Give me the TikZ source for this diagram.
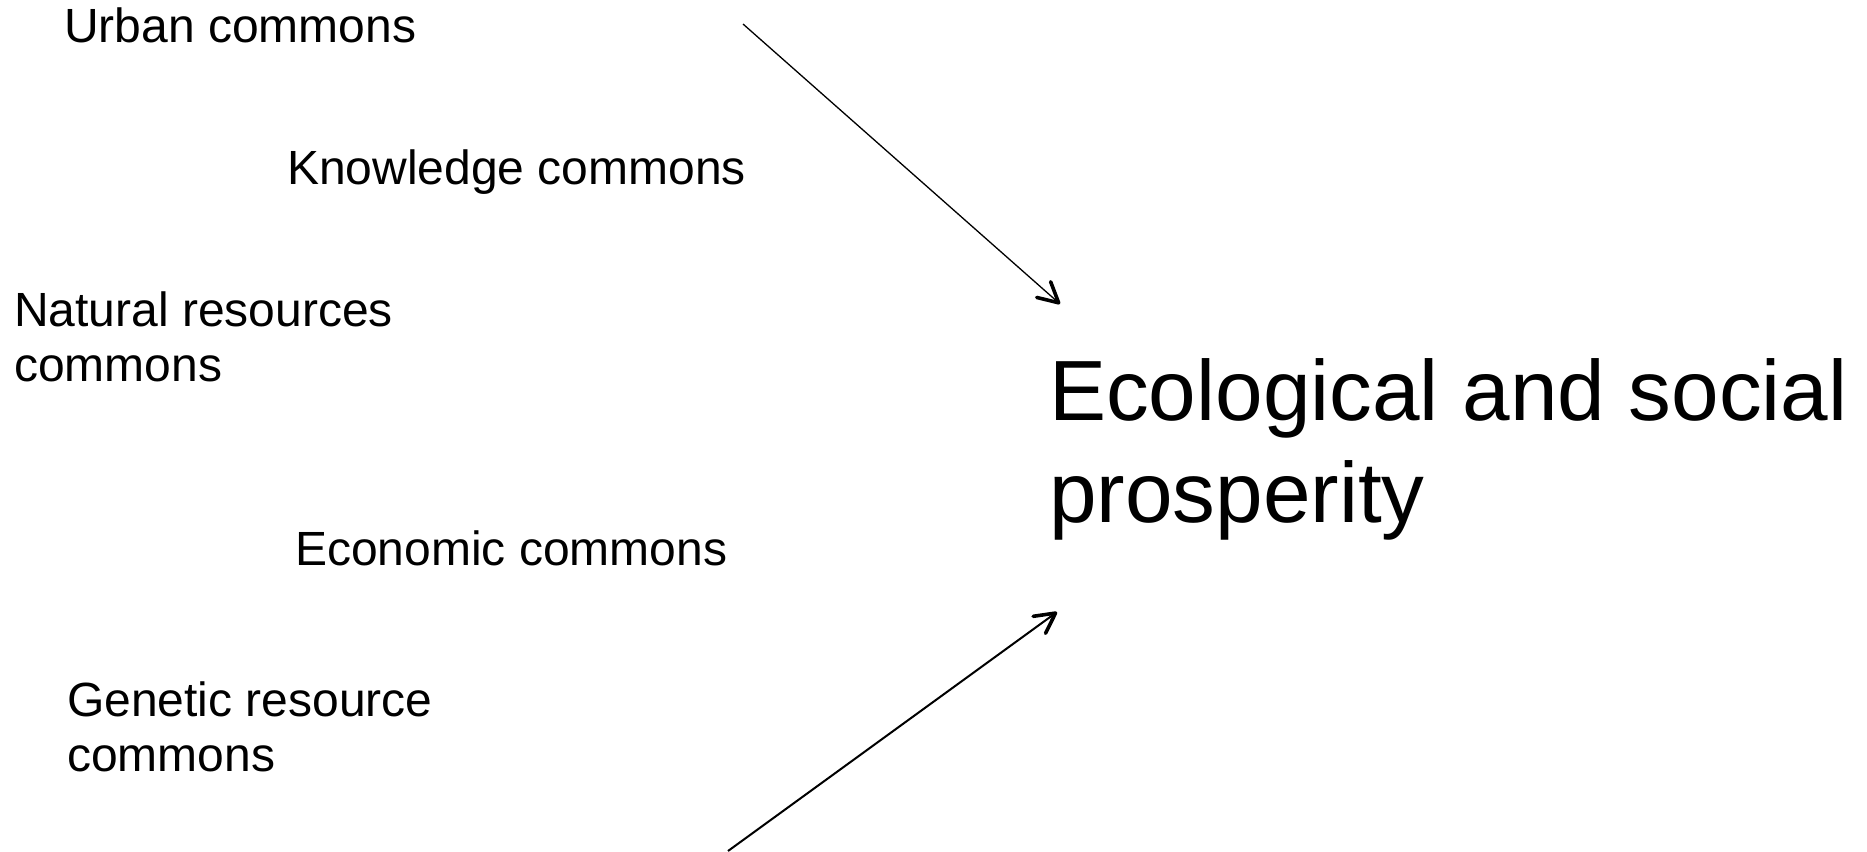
\documentclass[tikz,border=0pt]{standalone}
\usepackage{fontspec}
\setmainfont{Liberation Sans}
\usetikzlibrary{arrows.meta}
\newcommand\twoline[2]{\vtop{\hbox{#1}\hbox{#2}}}
\tikzset{
  small/.style={inner sep=0pt, anchor=base west, font=\fontsize{48}{55}\selectfont},
  big/.style={inner sep=0pt, anchor=base west, font=\fontsize{85.5}{102}\selectfont},
  conn/.style={draw=black, -{Straight Barb[length=20pt,width=21pt,line width=3.6pt,round]}}
}
\begin{document}
\begin{tikzpicture}[x=1pt,y=-1pt]
\useasboundingbox (0,0) rectangle (1867,851);
\node[small] (urban) at (64,43) {Urban commons};
\node[small] (know) at (287,184) {Knowledge commons};
\node[small] (nat) at (14,326) {\twoline{Natural resources}{commons}};
\node[small] (econ) at (295,565) {Economic commons};
\node[small] (gen) at (67,716) {\twoline{Genetic resource}{commons}};
\node[big] (eco) at (1049,420) {\twoline{Ecological and social}{prosperity}};
\coordinate (a1s) at (743,24);
\coordinate (a1e) at (1060,304);
\coordinate (a2s) at (728,851);
\coordinate (a2e) at (1057,612);
\draw[conn, line width=1.3pt] (a1s) -- (a1e);
\draw[conn, line width=2pt] (a2s) -- (a2e);
\end{tikzpicture}
\end{document}
